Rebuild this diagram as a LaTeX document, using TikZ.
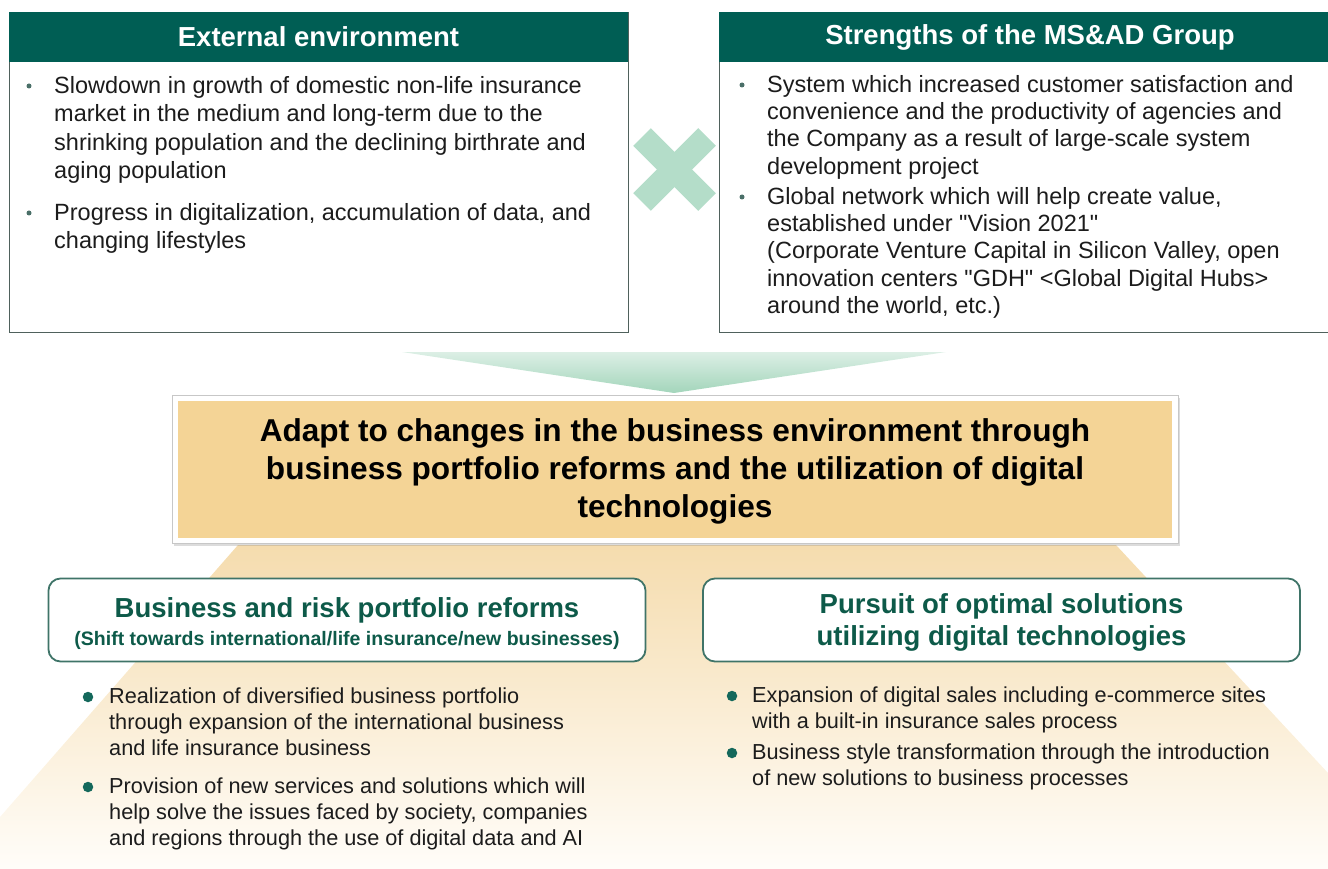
\documentclass[tikz,border=0pt]{standalone}
\usepackage{fontspec}
\setmainfont{Liberation Sans}
\usetikzlibrary{positioning, shadows, calc}
\definecolor{headgreen}{HTML}{005E54}
\definecolor{boxline}{HTML}{4F615C}
\definecolor{crossgreen}{HTML}{B4DDC9}
\definecolor{funnellight}{HTML}{DCEFE5}
\definecolor{funneldark}{HTML}{A3D5BB}
\definecolor{goldfill}{HTML}{F4D496}
\definecolor{sandtop}{HTML}{F5DCAE}
\definecolor{sandmid}{HTML}{F8E9CF}
\definecolor{sandbottom}{HTML}{FFFDF9}
\definecolor{titlegreen}{HTML}{0D5A49}
\definecolor{roundline}{HTML}{3F7468}
\definecolor{dotgreen}{HTML}{14685B}
\definecolor{smalldot}{HTML}{4A6F68}
\definecolor{bodyink}{HTML}{1C1C1C}

\begin{document}
\begin{tikzpicture}[x=1pt, y=-1pt,
  panel/.style={draw=boxline, line width=1.4pt, fill=white, anchor=north west, inner sep=0pt},
  headbar/.style={fill=headgreen, anchor=north west, inner sep=0pt},
  headtext/.style={text=white, font=\fontsize{27.5}{32}\selectfont\bfseries, inner sep=0pt},
  toptext/.style={text=bodyink, align=left, anchor=north west, inner sep=0pt},
  lowtext/.style={text=bodyink, align=left, anchor=north west, inner sep=0pt,
    font=\fontsize{21.7}{26}\selectfont},
  pillbox/.style={draw=roundline, line width=1.8pt, fill=white, rounded corners=12pt,
    minimum width=597pt, minimum height=83pt, inner sep=0pt},
  pilltext/.style={text=titlegreen, align=center, anchor=north, inner sep=0pt},
  bigdot/.style={circle, fill=dotgreen, inner sep=0pt, minimum size=10.5pt},
  tinydot/.style={circle, fill=smalldot, inner sep=0pt, minimum size=5pt}
]
  \useasboundingbox (0,0) rectangle (1328,869);

  % Sand trapezoid behind the lower half
  \shade[top color=sandtop, middle color=sandmid, bottom color=sandbottom]
    (238,545) -- (1116,545) -- (1328,773) -- (1328,869) -- (0,869) -- (0,817) -- cycle;

  % Upper panels
  \node[panel, minimum width=619pt, minimum height=320pt] (extbox) at (9,12) {};
  \node[headbar, minimum width=619pt, minimum height=50pt] (exthead) at (9,12) {};
  \node[headtext] (exttitle) at (318.5,37) {External environment};

  \node[panel, minimum width=622pt, minimum height=320pt] (strbox) at (719,12) {};
  \node[headbar, minimum width=622pt, minimum height=50pt] (strhead) at (719,12) {};
  \node[headtext] (strtitle) at (1030,37) {Strengths of the MS\&AD Group};

  % Bullets of the upper panels
  \foreach \name/\x/\y in {ea/29/86, eb/29/213, sa/742/85, sb/742/197}
    \node[tinydot] (dot\name) at (\x,\y) {};

  \node[toptext, font=\fontsize{23.5}{28.5}\selectfont] (extone) at (54,73.05)
    {\strut Slowdown in growth of domestic non-life insurance\\
     market in the medium and long-term due to the\\
     shrinking population and the declining birthrate and\\
     aging population};
  \node[toptext, font=\fontsize{23.5}{28.5}\selectfont] (exttwo) at (54,200.05)
    {\strut Progress in digitalization, accumulation of data, and\\
     changing lifestyles};

  \node[toptext, font=\fontsize{23.5}{27.3}\selectfont] (strone) at (767,72.9)
    {\strut System which increased customer satisfaction and\\
     convenience and the productivity of agencies and\\
     the Company as a result of large-scale system\\
     development project};
  \node[toptext, font=\fontsize{23.5}{27.3}\selectfont] (strtwo) at (767,184.9)
    {\strut Global network which will help create value,\\
     established under \textquotedbl Vision 2021\textquotedbl\\
     (Corporate Venture Capital in Silicon Valley, open\\
     innovation centers \textquotedbl GDH\textquotedbl\ <Global Digital Hubs>\\
     around the world, etc.)};

  % Cross between the panels
  \draw[crossgreen, line width=25pt] (642,137) -- (707,202);
  \draw[crossgreen, line width=25pt] (707,137) -- (642,202);

  % Funnel into the goal
  \shade[top color=funnellight, bottom color=funneldark]
    (402,352) -- (946,352) -- (674,393) -- cycle;

  % Goal box
  \node[draw=black!22, line width=0.8pt, fill=white, minimum width=1006pt, minimum height=148pt,
    inner sep=0pt, drop shadow={opacity=0.28, shadow xshift=2pt, shadow yshift=-3pt}]
    (goal) at (675,469) {};
  \node[fill=goldfill, minimum width=994pt, minimum height=137pt, inner sep=0pt]
    (goalfill) at (goal.center) {};
  \node[text=black, align=center, anchor=north, inner sep=0pt,
    font=\fontsize{31.6}{38}\selectfont\bfseries] (goaltext) at (675,414.4)
    {\strut Adapt to changes in the business environment through\\
     business portfolio reforms and the utilization of digital\\
     technologies};

  % Lower pillars
  \node[pillbox] (reform) at (347,620) {};
  \node[pilltext, font=\fontsize{27.5}{32}\selectfont\bfseries] (reformtitle) at (347,594.6)
    {\strut Business and risk portfolio reforms};
  \node[pilltext, font=\fontsize{19.5}{24}\selectfont\bfseries] (reformsub) at (347,628.2)
    {\strut (Shift towards international/life insurance/new businesses)};

  \node[pillbox] (digital) at (1001.5,620) {};
  \node[pilltext, font=\fontsize{27.5}{32}\selectfont\bfseries] (digitaltitle) at (1001.5,590.6)
    {\strut Pursuit of optimal solutions\\ utilizing digital technologies};

  % Bullets of the pillars
  \foreach \name/\x/\y in {ra/88/697, rb/88/787, da/732/696, db/732/753}
    \node[bigdot] (dot\name) at (\x,\y) {};

  \node[lowtext] (reformone) at (109,684.8)
    {\strut Realization of diversified business portfolio\\
     through expansion of the international business\\
     and life insurance business};
  \node[lowtext] (reformtwo) at (109,774.8)
    {\strut Provision of new services and solutions which will\\
     help solve the issues faced by society, companies\\
     and regions through the use of digital data and AI};

  \node[lowtext] (digitalone) at (752,683.8)
    {\strut Expansion of digital sales including e-commerce sites\\
     with a built-in insurance sales process};
  \node[lowtext] (digitaltwo) at (752,740.8)
    {\strut Business style transformation through the introduction\\
     of new solutions to business processes};
\end{tikzpicture}
\end{document}
